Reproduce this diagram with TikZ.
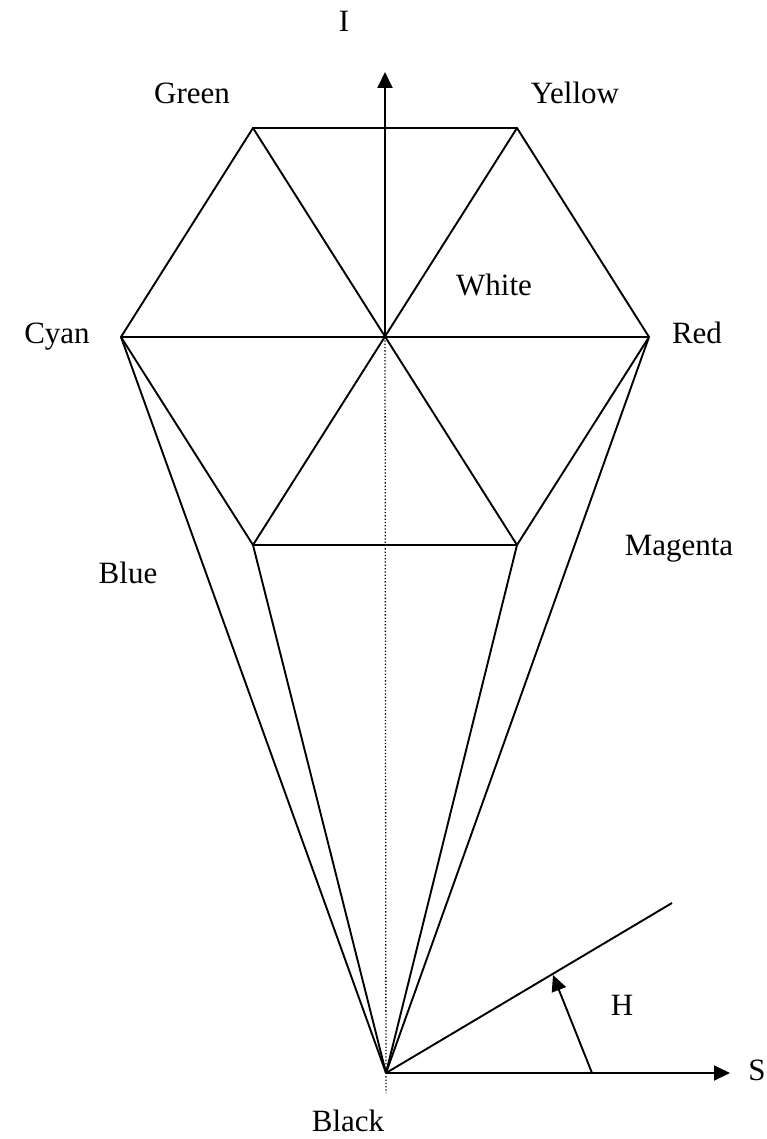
\documentclass[tikz,border=0pt]{standalone}
\usepackage{fontspec}
\setmainfont{Liberation Serif}
\usetikzlibrary{arrows.meta}
\begin{document}
\begin{tikzpicture}[x=1pt,y=-1pt,
  edge/.style={line width=1.9pt,line join=miter},
  axis/.style={line width=1.9pt,-{Triangle[width=15pt,length=16pt]}},
  lbl/.style={font=\fontsize{31}{36}\selectfont,inner sep=0pt}]
\useasboundingbox (0,0) rectangle (766,1139);
% vertices
\coordinate (C) at (385,337);
\coordinate (G) at (253,128);
\coordinate (Y) at (517,128);
\coordinate (Cy) at (121,337);
\coordinate (R) at (649,337);
\coordinate (LL) at (253,545);
\coordinate (LR) at (517,545);
\coordinate (K) at (386,1073);
\coordinate (Itip) at (385,72);
\coordinate (Dend) at (386,1093);
\coordinate (Stip) at (730,1073);
\coordinate (Hend) at (672,903);
\coordinate (Hbase) at (592,1073);
\coordinate (Htip) at (553,975);
% dotted axis
\draw[line width=1.3pt,dotted] (C) -- (Dend);
% hexagon
\draw[edge] (G) -- (Y) -- (R) -- (LR) -- (LL) -- (Cy) -- cycle;
\draw[edge] (G) -- (LR);
\draw[edge] (Y) -- (LL);
\draw[edge] (Cy) -- (R);
% cone
\draw[edge] (Cy) -- (K);
\draw[edge] (LL) -- (K);
\draw[edge] (LR) -- (K);
\draw[edge] (R) -- (K);
% axes
\draw[axis] (C) -- (Itip);
\draw[axis] (K) -- (Stip);
\draw[edge] (K) -- (Hend);
\draw[axis] (Hbase) -- (Htip);
% labels
\node[lbl] (lI) at (344,21) {I};
\node[lbl] (lG) at (192,93) {Green};
\node[lbl] (lY) at (575,93) {Yellow};
\node[lbl] (lCy) at (57,337) {Cyan};
\node[lbl] (lR) at (697,333) {Red};
\node[lbl] (lW) at (494,285) {White};
\node[lbl] (lM) at (679,549) {Magenta};
\node[lbl] (lB) at (128,573) {Blue};
\node[lbl] (lH) at (622,1005) {H};
\node[lbl] (lS) at (757,1070) {S};
\node[lbl] (lK) at (348,1121) {Black};
\end{tikzpicture}
\end{document}
